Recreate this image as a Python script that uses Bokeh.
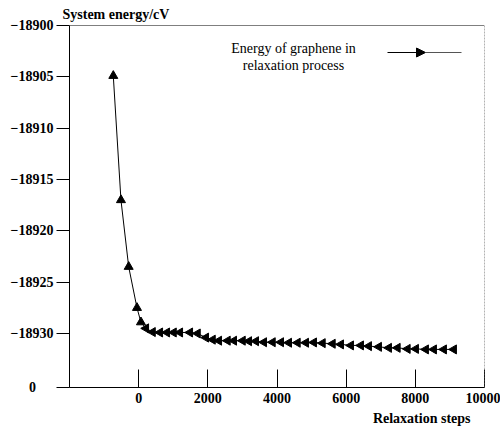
import math
from bokeh.plotting import figure
from bokeh.models import Label, Span, FixedTicker, Title, Arrow, NormalHead
from bokeh.embed import file_html
from bokeh.resources import INLINE

# --- data ---
steps_descent = [-734, -512, -289, -49, 66]
energy_descent = [-18904.9, -18917.0, -18923.5, -18927.5, -18928.9]

steps_relax = [211, 405, 616, 818, 1012, 1194, 1483, 1705, 1945, 2139, 2321, 2572,
               2754, 3006, 3188, 3390, 3621, 3873, 4113, 4344, 4595, 4835, 5066,
               5318, 5607, 5847, 6136, 6425, 6656, 6945, 7234, 7486, 7775, 8015,
               8303, 8535, 8824, 9113]
energy_relax = [-18929.5, -18929.86, -18929.9, -18929.9, -18929.9, -18929.9, -18929.9,
                -18930.0, -18930.4, -18930.6, -18930.7, -18930.7, -18930.7, -18930.7,
                -18930.75, -18930.75, -18930.85, -18930.85, -18930.85, -18930.9,
                -18930.9, -18930.9, -18930.87, -18930.94, -18931.0, -18931.06,
                -18931.16, -18931.16, -18931.23, -18931.3, -18931.4, -18931.4,
                -18931.5, -18931.5, -18931.55, -18931.55, -18931.55, -18931.55]

x_ticks = [0, 2000, 4000, 6000, 8000, 10000]
y_ticks = [-18930, -18925, -18920, -18915, -18910, -18905, -18900]
y_bottom = -18935.26
y_bottom_label = "0"

series_label = "Energy of graphene in\nrelaxation process"
y_title = "System energy/cV"
x_title = "Relaxation steps"

SERIF = "Liberation Serif"

p = figure(width=500, height=432, x_range=(-2000, 10000), y_range=(y_bottom, -18900),
           output_backend="svg", toolbar_location=None,
           min_border_left=69, min_border_right=16, min_border_top=25, min_border_bottom=45)
p.grid.visible = False
p.outline_line_color = None
p.background_fill_color = "white"

# y title (top-left)
p.title.text = y_title
p.title.align = "left"
p.title.offset = -7
p.title.standoff = 8
p.title.text_font = SERIF
p.title.text_font_style = "bold"
p.title.text_font_size = "14px"
p.title.text_color = "black"

# axes
p.xaxis.ticker = FixedTicker(ticks=x_ticks)
p.xaxis.major_tick_in = 18
p.xaxis.major_tick_out = 0
p.xaxis.minor_tick_line_color = None
p.xaxis.major_label_standoff = 5
p.xaxis.major_label_text_font = SERIF
p.xaxis.major_label_text_font_style = "bold"
p.xaxis.major_label_text_font_size = "14px"
p.xaxis.major_label_text_color = "black"
p.xaxis.axis_line_color = "black"
p.xaxis.major_tick_line_color = "black"

p.yaxis.ticker = FixedTicker(ticks=[y_bottom] + y_ticks)
p.yaxis.major_label_overrides = {y_bottom: y_bottom_label + "\u00a0" * 5}
p.yaxis.major_tick_in = 0
p.yaxis.major_tick_out = 13
p.yaxis.minor_tick_line_color = None
p.yaxis.major_label_standoff = 3
p.yaxis.major_label_text_font = SERIF
p.yaxis.major_label_text_font_style = "bold"
p.yaxis.major_label_text_font_size = "14px"
p.yaxis.major_label_text_color = "black"
p.yaxis.axis_line_color = "black"
p.yaxis.major_tick_line_color = "black"

# x title (bottom-right)
p.add_layout(Title(text=x_title, align="right", offset=14, standoff=6,
                   text_font=SERIF, text_font_style="bold", text_font_size="14px",
                   text_color="black"), "below")

# frame top and right edges
p.add_layout(Span(location=-18900, dimension="width", line_color="black", line_width=1))
p.add_layout(Span(location=10000, dimension="height", line_color="#666666",
                  line_width=1, line_dash="2 1"))

# data
all_x = steps_descent + steps_relax
all_y = energy_descent + energy_relax
p.line(all_x, all_y, line_color="black", line_width=1)
p.scatter(steps_descent, energy_descent, marker="triangle", size=9,
          fill_color="black", line_color="black")
p.scatter(steps_relax, energy_relax, marker="triangle", size=9, angle=math.pi / 2,
          fill_color="black", line_color="black")

# legend key (text on the left, arrow sample on the right)
for i, txt in enumerate(series_label.split("\n")):
    p.add_layout(Label(x=224, y=339 - 17 * i, x_units="screen", y_units="screen",
                       text=txt, text_align="center", text_baseline="middle",
                       text_font=SERIF, text_font_size="14px", text_color="black"))
p.add_layout(Arrow(x_start=318, y_start=335, x_end=356, y_end=335,
                   start_units="screen", end_units="screen",
                   line_color="black", line_width=1,
                   end=NormalHead(size=9, fill_color="black", line_color="black")))
p.add_layout(Arrow(x_start=356, y_start=335, x_end=392, y_end=335,
                   start_units="screen", end_units="screen",
                   line_color="#555555", line_width=1, end=None))

open("out.html", "w").write(file_html(p, INLINE))
